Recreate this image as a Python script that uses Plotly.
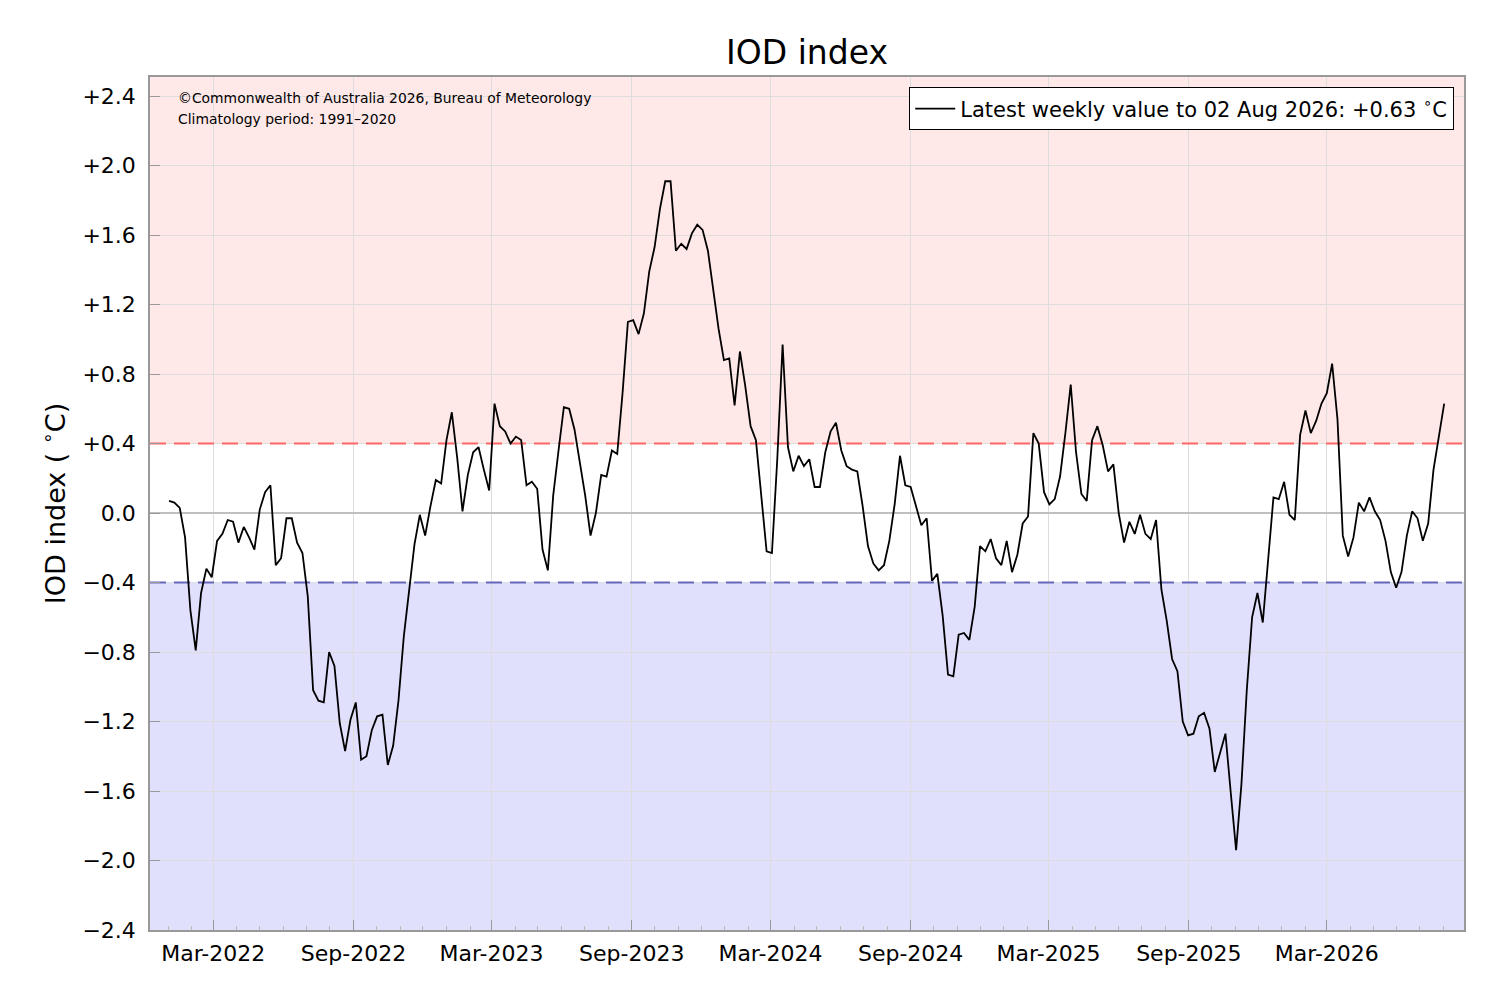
import plotly.graph_objects as go
import pandas as pd

# weekly IOD values, weeks ending Sunday
start_week = "2022-01-02"
iod_2022 = [0.07, 0.06, 0.03, -0.14, -0.56, -0.79, -0.46, -0.32, -0.37, -0.16,
            -0.12, -0.04, -0.05, -0.17, -0.08, -0.14, -0.21, 0.02, 0.12, 0.16,
            -0.30, -0.26, -0.03, -0.03, -0.17, -0.23, -0.48, -1.02, -1.08, -1.09,
            -0.80, -0.88, -1.21, -1.37, -1.19, -1.09, -1.42, -1.40, -1.25, -1.17,
            -1.16, -1.45]
iod_2023a = [-1.34, -1.08, -0.71, -0.44, -0.18, -0.01, -0.13, 0.04, 0.19, 0.17,
             0.42, 0.58, 0.32, 0.01, 0.22, 0.35, 0.38, 0.25, 0.13, 0.63,
             0.50, 0.47, 0.40, 0.44, 0.42, 0.16, 0.18, 0.14, -0.21, -0.33,
             0.10, 0.36, 0.61, 0.60, 0.48, 0.29, 0.10, -0.13, 0.00, 0.22, 0.21]
iod_2023b = [0.36, 0.34, 0.69, 1.10, 1.11, 1.03, 1.15, 1.39, 1.53, 1.75,
             1.91, 1.91, 1.51, 1.55, 1.52, 1.61, 1.66, 1.63, 1.51, 1.29,
             1.06, 0.88, 0.89, 0.62, 0.93, 0.73, 0.50, 0.42, 0.10, -0.22,
             -0.23, 0.31, 0.97, 0.38, 0.24, 0.33]
iod_2024 = [0.27, 0.31, 0.15, 0.15, 0.35, 0.47, 0.52, 0.36, 0.27, 0.25,
            0.24, 0.04, -0.19, -0.29, -0.33, -0.30, -0.16, 0.05, 0.33, 0.16,
            0.15, 0.04, -0.07, -0.03, -0.39, -0.35, -0.59, -0.93, -0.94, -0.70,
            -0.69, -0.73, -0.54, -0.19, -0.22, -0.15, -0.26]
iod_2025 = [-0.30, -0.16, -0.34, -0.24, -0.06, -0.02, 0.46, 0.40, 0.12, 0.05,
            0.08, 0.21, 0.46, 0.74, 0.35, 0.11, 0.07, 0.42, 0.50, 0.39,
            0.24, 0.28, 0.00, -0.17, -0.05, -0.12, -0.01, -0.12, -0.15, -0.04,
            -0.44, -0.62, -0.84, -0.91]
iod_2026 = [-1.20, -1.28, -1.27, -1.17, -1.15, -1.24, -1.49, -1.38, -1.27, -1.61,
            -1.94, -1.56, -1.02, -0.60, -0.46, -0.63, -0.27, 0.09, 0.08, 0.18,
            -0.01, -0.04, 0.45, 0.59, 0.46, 0.53, 0.63, 0.69, 0.86, 0.54,
            -0.13, -0.25, -0.14, 0.06, 0.01, 0.09, 0.01, -0.04, -0.16, -0.34,
            -0.43, -0.34, -0.13, 0.01, -0.03, -0.16, -0.06, 0.25, 0.44, 0.63]

iod = iod_2022 + iod_2023a + iod_2023b + iod_2024 + iod_2025 + iod_2026
weeks = pd.date_range(start_week, periods=len(iod), freq="7D")

y_ticks = [-2.4, -2.0, -1.6, -1.2, -0.8, -0.4, 0.0, 0.4, 0.8, 1.2, 1.6, 2.0, 2.4]
y_labels = ["0.0" if v == 0 else ("+%.1f" % v if v > 0 else "\u2212%.1f" % -v) for v in y_ticks]
threshold = 0.4
x_range = ["2021-12-08", "2026-08-28"]

font = "DejaVu Sans"
label = "Latest weekly value to %s: %+.2f <sup>\u2218</sup>C" % (weeks[-1].strftime("%d %b %Y"), iod[-1])

fig = go.Figure()

# shaded positive / negative event zones
fig.add_hrect(y0=threshold, y1=3, fillcolor="#ffe8e8", line_width=0, layer="below")
fig.add_hrect(y0=-3, y1=-threshold, fillcolor="#e0e0fc", line_width=0, layer="below")

# threshold lines as traces so they sit above the grid but under the index line
fig.add_trace(go.Scatter(x=x_range, y=[threshold, threshold], mode="lines", showlegend=False,
                         hoverinfo="skip", line=dict(color="#ff6666", width=2, dash="16px,8px")))
fig.add_trace(go.Scatter(x=x_range, y=[-threshold, -threshold], mode="lines", showlegend=False,
                         hoverinfo="skip", line=dict(color="#6666bb", width=2, dash="16px,8px")))

fig.add_trace(go.Scatter(x=weeks, y=iod, mode="lines", name=label,
                         line=dict(color="black", width=1.8), showlegend=True))

fig.add_annotation(text="\u00a9Commonwealth of Australia 2026, Bureau of Meteorology",
                   xref="paper", yref="paper", x=0.0198, y=0.975, xanchor="left", yanchor="middle",
                   showarrow=False, font=dict(family=font, size=13.9, color="black"))
fig.add_annotation(text="Climatology period: 1991\u20132020",
                   xref="paper", yref="paper", x=0.0195, y=0.951, xanchor="left", yanchor="middle",
                   showarrow=False, font=dict(family=font, size=13.9, color="black"))

fig.update_layout(
    width=1500, height=1000,
    margin=dict(l=142, r=44, t=69, b=78),
    paper_bgcolor="white", plot_bgcolor="white",
    font=dict(family=font, size=22, color="black"),
    title=dict(text="IOD index", x=0.5, xref="paper", xanchor="center", y=0.956, yanchor="middle",
               font=dict(family=font, size=33)),
    legend=dict(x=0.9924, y=0.988, xanchor="right", yanchor="top",
                bgcolor="white", bordercolor="black", borderwidth=1.2,
                font=dict(family=font, size=21), itemwidth=40),
    showlegend=True,
)
fig.update_xaxes(
    range=x_range,
    tick0="2022-03-01", dtick="M6", tickformat="%b-%Y",
    ticks="inside", ticklen=10, tickcolor="#999999",
    showgrid=True, gridcolor="#dddddd", gridwidth=1,
    showline=True, linecolor="#999999", linewidth=1.5, mirror=True,
    minor=dict(dtick="M1", ticks="inside", ticklen=4, tickcolor="#bbbbbb", showgrid=False),
    tickfont=dict(size=22), ticklabelstandoff=3,
)
fig.update_yaxes(
    range=[-2.4, 2.51],
    tickvals=y_ticks, ticktext=y_labels,
    ticks="inside", ticklen=10, tickcolor="#999999",
    showgrid=True, gridcolor="#dddddd", gridwidth=1,
    zeroline=True, zerolinecolor="#c0c0c0", zerolinewidth=1.5,
    showline=True, linecolor="#999999", linewidth=1.5, mirror=True,
    title=dict(text="IOD index ( <sup>\u2218</sup>C)", font=dict(size=27), standoff=9),
    tickfont=dict(size=22), ticklabelstandoff=8,
)

fig.write_html("out.html")
